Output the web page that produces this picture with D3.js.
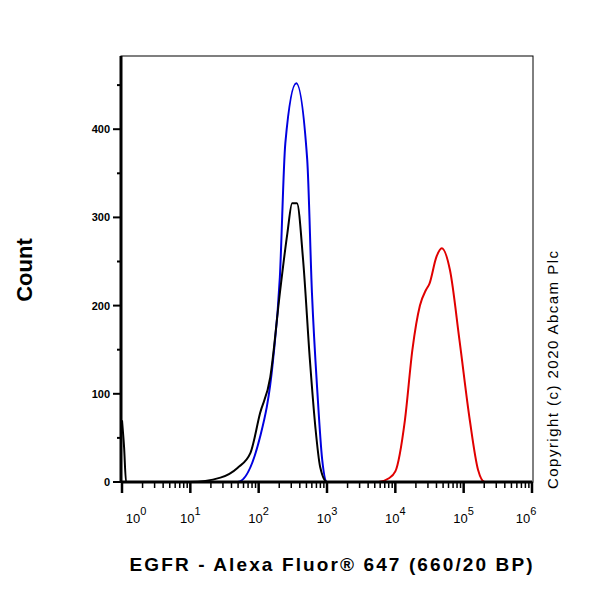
<!DOCTYPE html>
<html><head><meta charset="utf-8">
<script src="https://cdn.jsdelivr.net/npm/d3@7"></script>
<style>body{margin:0;background:#fff}text{font-family:"Liberation Sans",Arial,sans-serif}</style>
</head><body><svg id="c" width="600" height="600"></svg>
<script>
// x values are log10 of fluorescence, y is count
var blue_x = [0, 1.69, 2.02, 2.21, 2.31, 2.39, 2.55, 2.71, 2.78, 2.86, 2.93, 3.0, 6];
var blue_y = [0, 0, 51, 138, 232, 384, 452, 366, 214, 101, 25, 0, 0];
var black_x = [0, 0.03, 0.06, 0.1, 1.0, 1.44, 1.69, 1.88, 2.02, 2.17, 2.31, 2.42, 2.49, 2.56, 2.65, 2.75, 2.83, 2.9, 3.0, 6];
var black_y = [70, 40, 0, 0, 0, 5, 16, 33, 78, 119, 214, 282, 316, 316, 252, 138, 62, 17, 0, 0];
var red_x = [0, 3.75, 3.9, 4.0, 4.14, 4.25, 4.36, 4.45, 4.5, 4.6, 4.68, 4.8, 4.94, 5.09, 5.21, 5.31, 6];
var red_y = [0, 0, 4, 12, 70, 150, 200, 218, 225, 255, 265, 240, 160, 70, 14, 0, 0];
var y_ticks = [0, 100, 200, 300, 400];
var x_decades = [0, 1, 2, 3, 4, 5, 6];

var svg = d3.select('#c');
var x = d3.scaleLinear().domain([0, 6]).range([122, 532]);
var y = d3.scaleLinear().domain([0, 483]).range([482, 56]);

svg.append('rect').attr('x', 121).attr('y', 56).attr('width', 412).attr('height', 426)
   .attr('fill', 'none').attr('stroke', '#000').attr('stroke-width', 1);

var line = d3.line().x(function(d){return x(d[0])}).y(function(d){return y(d[1])}).curve(d3.curveMonotoneX);
function draw(xs, ys, col){
    svg.append('path').datum(d3.zip(xs, ys)).attr('d', line)
       .attr('fill', 'none').attr('stroke', col).attr('stroke-width', 2);
}
draw(red_x, red_y, '#e00000');
draw(blue_x, blue_y, '#0000e0');
draw(black_x, black_y, '#000');

// y axis
var yminor = d3.range(0, 451, 50);
var gy = svg.append('g').attr('transform', 'translate(121,0)');
gy.append('line').attr('y1', y(0)).attr('y2', 56).attr('stroke', '#000').attr('stroke-width', 3);
gy.selectAll('.t').data(yminor).enter().append('line')
  .attr('x1', function(d){return d % 100 ? -4 : -8}).attr('x2', 0)
  .attr('y1', function(d){return y(d)}).attr('y2', function(d){return y(d)})
  .attr('stroke', '#000').attr('stroke-width', 2);
gy.selectAll('text').data(y_ticks).enter().append('text')
  .attr('x', -11).attr('y', function(d){return y(d) + 4}).attr('text-anchor', 'end')
  .attr('font-size', 11).attr('font-weight', 'bold').text(function(d){return d});

// x axis
var gx = svg.append('g').attr('transform', 'translate(0,482)');
gx.append('line').attr('x1', x(0)).attr('x2', x(6)).attr('stroke', '#000').attr('stroke-width', 3);
var minors = [];
x_decades.slice(0, 6).forEach(function(dd){
    for (var k = 2; k < 10; k++) minors.push(dd + Math.log10(k));
});
gx.selectAll('.mi').data(minors).enter().append('line')
  .attr('x1', function(d){return x(d)}).attr('x2', function(d){return x(d)})
  .attr('y1', 0).attr('y2', 6).attr('stroke', '#000').attr('stroke-width', 1.5);
gx.selectAll('.ma').data(x_decades).enter().append('line')
  .attr('x1', function(d){return x(d)}).attr('x2', function(d){return x(d)})
  .attr('y1', 0).attr('y2', 11).attr('stroke', '#000').attr('stroke-width', 2.5);
var lab = gx.selectAll('.lb').data(x_decades).enter().append('text')
  .attr('x', function(d){return x(d) + (d === 0 ? 14 : d === 6 ? -6 : 0)}).attr('y', 41)
  .attr('text-anchor', 'middle').attr('font-size', 13);
lab.append('tspan').text('10');
lab.append('tspan').attr('dy', -8).attr('font-size', 11).text(function(d){return d});

svg.append('text').attr('transform', 'translate(32,270) rotate(-90)').attr('text-anchor', 'middle')
   .attr('font-size', 22).attr('font-weight', 'bold').text('Count');
svg.append('text').attr('x', 331).attr('y', 571).attr('text-anchor', 'middle')
   .attr('font-size', 19).attr('font-weight', 'bold').attr('textLength', 403)
   .text('EGFR - Alexa Fluor® 647 (660/20 BP)');
svg.append('text').attr('transform', 'translate(558,370) rotate(-90)').attr('text-anchor', 'middle')
   .attr('font-size', 15).attr('textLength', 238).text('Copyright (c) 2020 Abcam Plc');
</script></body></html>
